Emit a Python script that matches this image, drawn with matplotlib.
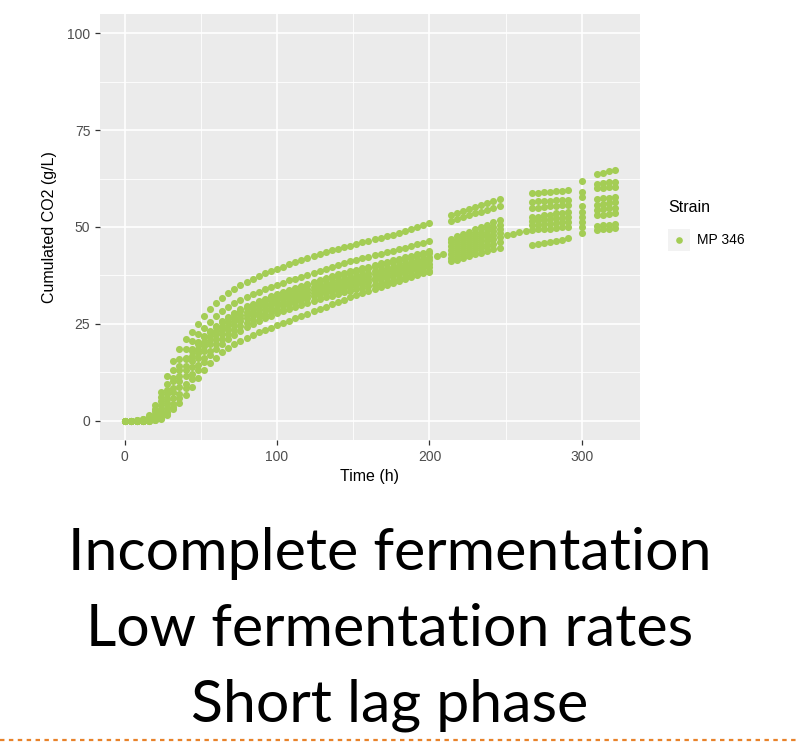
import matplotlib
matplotlib.use('Agg')
from matplotlib import pyplot as plt
from matplotlib.patches import Rectangle
from matplotlib.lines import Line2D

green = '#a4cd55'

# first run, sampled every 4 h from 0 to 200 h
t_run = list(range(0, 201, 4))

c1 = [0, 0, 0.1, 0.4, 1.5, 4, 7.5, 11.5, 15.5, 18.5, 21, 23, 25, 27, 28.7, 30.3, 31.7, 33, 34, 35,
      35.9, 36.7, 37.4, 38, 38.6, 39.2, 39.8, 40.4, 41, 41.6, 42.1, 42.6, 43.1, 43.6, 44, 44.4, 44.8,
      45.2, 45.6, 46, 46.4, 46.8, 47.2, 47.6, 48, 48.5, 48.9, 49.4, 49.9, 50.4, 51]
c2 = [0, 0, 0.1, 0.3, 1, 3, 6, 9.5, 13, 16, 18.5, 20.5, 22.3, 24, 25.5, 27, 28.3, 29.4, 30.4, 31.2,
      32, 32.7, 33.3, 33.9, 34.4, 35, 35.6, 36.2, 36.7, 37.2, 37.7, 38.2, 38.7, 39.2, 39.7, 40.2, 40.7,
      41.1, 41.5, 41.9, 42.3, 42.7, 43.1, 43.5, 43.9, 44.3, 44.7, 45.1, 45.5, 45.9, 46.3]
c3 = [0, 0, 0, 0.2, 0.8, 2.5, 5, 8, 11, 14, 16.3, 18.4, 20.2, 21.8, 23.2, 24.5, 25.7, 26.8, 27.8, 28.7,
      29.5, 30.2, 30.9, 31.5, 32.1, 32.7, 33.3, 33.8, 34.3, 34.8, 35.3, 35.8, 36.3, 36.8, 37.3, 37.8, 38.2,
      38.6, 39, 39.4, 39.8, 40.2, 40.6, 41, 41.4, 41.8, 42.2, 42.6, 43, 43.4, 43.8]
c4 = [0, 0, 0, 0.1, 0.5, 1.8, 4, 7, 10.2, 13.2, 15.8, 18, 19.9, 21.5, 22.9, 24.2, 25.4, 26.5, 27.5, 28.4,
      29.2, 29.9, 30.6, 31.2, 31.8, 32.4, 33, 33.5, 34, 34.5, 35, 35.5, 36, 36.5, 37, 37.4, 37.8,
      38.2, 38.6, 39, 39.4, 39.8, 40.2, 40.6, 41, 41.4, 41.8, 42.2, 42.6, 43, 43.4]
c5 = [0, 0, 0, 0, 0.3, 1.2, 3, 5.5, 8.5, 11.5, 14.2, 16.6, 18.6, 20.3, 21.8, 23.1, 24.3, 25.4, 26.4, 27.3,
      28.1, 28.9, 29.6, 30.2, 30.8, 31.4, 32, 32.5, 33, 33.5, 34, 34.5, 35, 35.4, 35.8, 36.2, 36.6,
      37, 37.4, 37.8, 38.2, 38.6, 39, 39.4, 39.8, 40.2, 40.6, 41, 41.4, 41.8, 42.2]
c6 = [0, 0, 0, 0, 0.2, 0.8, 2.2, 4.5, 7.3, 10.3, 13, 15.4, 17.5, 19.3, 20.9, 22.3, 23.5, 24.6, 25.6, 26.5,
      27.3, 28.1, 28.8, 29.5, 30.1, 30.7, 31.3, 31.8, 32.3, 32.8, 33.3, 33.8, 34.2, 34.6, 35, 35.4, 35.8,
      36.2, 36.6, 37, 37.4, 37.8, 38.2, 38.6, 39, 39.4, 39.8, 40.2, 40.6, 41, 41.4]
c7 = [0, 0, 0, 0, 0.1, 0.5, 1.5, 3.3, 5.8, 8.6, 11.4, 13.9, 16.1, 18, 19.7, 21.2, 22.5, 23.7, 24.7, 25.6,
      26.4, 27.2, 27.9, 28.6, 29.2, 29.8, 30.4, 30.9, 31.4, 31.9, 32.4, 32.9, 33.3, 33.7, 34.1, 34.5, 34.9,
      35.3, 35.7, 36.1, 36.5, 36.9, 37.3, 37.7, 38.1, 38.5, 38.9, 39.3, 39.7, 40.1, 40.5]
c8 = [0, 0, 0, 0, 0, 0.3, 1, 2.3, 4.3, 6.8, 9.5, 12, 14.3, 16.3, 18.1, 19.7, 21.1, 22.3, 23.4, 24.4,
      25.3, 26.1, 26.9, 27.6, 28.3, 28.9, 29.5, 30.1, 30.6, 31.1, 31.6, 32.1, 32.6, 33, 33.4, 33.8, 34.2,
      34.6, 35, 35.4, 35.8, 36.2, 36.6, 37, 37.4, 37.8, 38.2, 38.6, 39, 39.4, 39.8]
c9 = [0, 0, 0, 0, 0, 0.2, 0.7, 1.8, 3.5, 5.8, 8.3, 10.8, 13.1, 15.1, 16.9, 18.5, 19.9, 21.1, 22.2, 23.2,
      24.1, 24.9, 25.7, 26.4, 27.1, 27.7, 28.3, 28.9, 29.4, 29.9, 30.4, 30.9, 31.4, 31.9, 32.3, 32.7, 33.1,
      33.5, 33.9, 34.3, 34.7, 35.1, 35.5, 35.9, 36.3, 36.7, 37.1, 37.5, 37.9, 38.3, 38.7]
c10 = [0, 0, 0, 0, 0, 0.1, 0.5, 1.5, 3, 4.5, 6.5, 8.7, 11, 13, 14.8, 16.3, 17.6, 18.7, 19.7, 20.6,
       21.4, 22.1, 22.8, 23.4, 24, 24.6, 25.2, 25.8, 26.4, 27, 27.6, 28.2, 28.8, 29.4, 30, 30.6, 31.2,
       31.8, 32.4, 33, 33.6, 34.1, 34.6, 35.1, 35.6, 36.1, 36.6, 37.1, 37.6, 38.1, 38.3]
run1 = [c1, c2, c3, c4, c5, c6, c7, c8, c9, c10]

# second run 214-246 h
t_run2 = [214, 218, 222, 226, 230, 234, 238, 242, 246]
run2 = [
    [53.0, 53.5, 54.1, 54.6, 55.2, 55.7, 56.2, 56.8, 57.3],
    [51.6, 52.1, 52.5, 53.0, 53.5, 54.0, 54.5, 55.0, 55.4],
    [47.0, 47.6, 48.2, 48.8, 49.4, 50.0, 50.6, 51.2, 51.8],
    [46.0, 46.6, 47.1, 47.7, 48.3, 48.8, 49.4, 49.9, 50.5],
    [45.0, 45.5, 46.1, 46.6, 47.2, 47.7, 48.3, 48.9, 49.5],
    [44.0, 44.5, 45.1, 45.6, 46.2, 46.7, 47.3, 47.9, 48.5],
    [43.0, 43.5, 44.1, 44.6, 45.2, 45.7, 46.3, 46.9, 47.5],
    [42.0, 42.5, 43.0, 43.5, 44.0, 44.5, 45.0, 45.5, 46.0],
    [41.2, 41.6, 42.0, 42.5, 42.9, 43.3, 43.8, 44.2, 44.6],
]

# isolated points between runs
t_gap = [205, 209, 251, 255, 259, 263]
v_gap = [42.4, 43.1, 48.0, 48.3, 48.6, 49.0]

# third run 267-291 h
t_run3 = [267, 271, 275, 279, 283, 287, 291]
run3 = [
    [58.7, 58.8, 59.0, 59.1, 59.2, 59.4, 59.5],
    [56.5, 56.6, 56.7, 56.8, 56.9, 57.0, 57.1],
    [54.8, 55.0, 55.1, 55.3, 55.4, 55.6, 55.7],
    [52.5, 52.7, 53.0, 53.2, 53.5, 53.7, 54.0],
    [51.5, 51.7, 51.9, 52.0, 52.2, 52.4, 52.6],
    [50.5, 50.6, 50.8, 50.9, 51.0, 51.2, 51.3],
    [49.3, 49.4, 49.5, 49.6, 49.7, 49.9, 50.0],
    [45.4, 45.6, 45.8, 46.1, 46.4, 46.7, 47.1],
]

# single sampling at 300 h
t_300 = 300
v_300 = [62.0, 59.1, 57.8, 55.3, 54.0, 52.7, 51.4, 50.0, 48.4]

# last run 310-322 h
t_run4 = [310, 314, 318, 322]
run4 = [
    [63.6, 64.0, 64.4, 64.8],
    [61.1, 61.3, 61.5, 61.7],
    [60.0, 60.1, 60.3, 60.4],
    [57.2, 57.4, 57.6, 57.8],
    [55.8, 56.0, 56.2, 56.4],
    [54.4, 54.6, 54.8, 55.0],
    [53.0, 53.2, 53.4, 53.6],
    [50.2, 50.4, 50.6, 50.8],
    [49.2, 49.4, 49.6, 49.8],
]

xs = []
ys = []
for curve in run1:
    xs += t_run
    ys += curve
for row in run2:
    xs += t_run2
    ys += row
xs += t_gap
ys += v_gap
for row in run3:
    xs += t_run3
    ys += row
xs += [t_300] * len(v_300)
ys += v_300
for row in run4:
    xs += t_run4
    ys += row

plt.rcParams['font.family'] = ['Liberation Sans', 'DejaVu Sans']
fig = plt.figure(figsize=(7.97, 7.44), dpi=100)
ax = fig.add_axes([100 / 797, 1 - 440 / 744, 540 / 797, 426 / 744])
ax.set_facecolor('#ebebeb')
ax.scatter(xs, ys, s=26, color=green, linewidths=0, zorder=3)

ax.set_xlim(-16.1, 338.1)
ax.set_ylim(-5, 105)
ax.set_xticks([0, 100, 200, 300])
ax.set_xticks([50, 150, 250], minor=True)
ax.set_yticks([0, 25, 50, 75, 100])
ax.set_yticks([12.5, 37.5, 62.5, 87.5], minor=True)
ax.grid(True, which='major', color='white', linewidth=1.2)
ax.grid(True, which='minor', color='white', linewidth=0.6)
ax.set_axisbelow(True)
for s in ax.spines.values():
    s.set_visible(False)
ax.tick_params(which='major', length=3.5, color='#333333', labelcolor='#4d4d4d', labelsize=10, width=0.9)
ax.tick_params(which='minor', length=0)
ax.set_xlabel('Time (h)', fontsize=11.5, labelpad=4)
ax.set_ylabel('Cumulated CO2 (g/L)', fontsize=11.5, labelpad=7)

# legend
fig.text(668 / 797, 1 - 207 / 744, 'Strain', fontsize=11.5, va='center', ha='left')
fig.patches.append(Rectangle((668 / 797, 1 - 251 / 744), 22 / 797, 22 / 744,
                             transform=fig.transFigure, facecolor='#f2f2f2', edgecolor='none'))
fig.lines.append(Line2D([679 / 797], [1 - 240 / 744], transform=fig.transFigure,
                        marker='o', markersize=4.8, color=green, markeredgewidth=0))
fig.text(697 / 797, 1 - 240 / 744, 'MP 346', fontsize=10, va='center', ha='left')

# slide text
big = dict(fontsize=42.5, ha='center', va='center', family=['Lato', 'DejaVu Sans'])
fig.text(390 / 797, 1 - 553 / 744, 'Incomplete fermentation', **big)
fig.text(390 / 797, 1 - 630 / 744, 'Low fermentation rates', **big)
fig.text(390 / 797, 1 - 705 / 744, 'Short lag phase', **big)

fig.lines.append(Line2D([0, 1], [1 - 740 / 744, 1 - 740 / 744], transform=fig.transFigure,
                        color='#e8822a', linewidth=1.6, linestyle=(0, (2, 2))))

plt.savefig('out.png', dpi=100)
